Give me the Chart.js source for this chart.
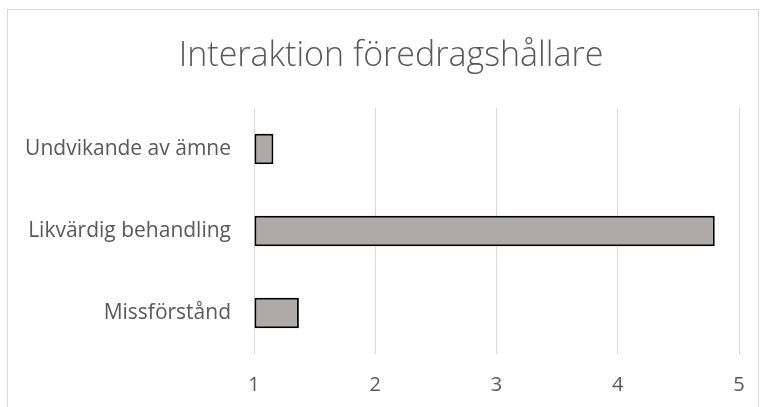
<!DOCTYPE html>
<html>
<head>
<meta charset="utf-8">
<script src="https://cdn.jsdelivr.net/npm/chart.js@4"></script>
<style>
html,body{margin:0;padding:0;background:#fff;}
#wrap{position:relative;width:766px;height:407px;overflow:hidden;}
#frame{position:absolute;left:7px;top:9px;width:752px;height:420px;border:1px solid #d9d9d9;box-sizing:border-box;}
canvas{position:absolute;left:0;top:0;}
</style>
</head>
<body>
<div id="wrap"><div id="frame"></div><canvas id="c" width="766" height="407"></canvas></div>
<script>
const chartTitle = "Interaktion föredragshållare";
const categories = ["Undvikande av ämne", "Likvärdig behandling", "Missförstånd"];
const values = [1.16, 4.80, 1.37];
const xTicks = [1, 2, 3, 4, 5];

const FONT = "'Open Sans', sans-serif";

const titlePlugin = {
  id: 'centeredTitle',
  afterDraw(chart) {
    const ctx = chart.ctx;
    ctx.save();
    ctx.font = "300 34px " + FONT;
    ctx.fillStyle = '#595959';
    ctx.textAlign = 'center';
    ctx.textBaseline = 'middle';
    ctx.fillText(chartTitle, 391, 56);
    ctx.restore();
  }
};

new Chart(document.getElementById('c'), {
  type: 'bar',
  data: {
    labels: categories,
    datasets: [{
      data: values,
      base: 1,
      backgroundColor: '#aeaaaa',
      borderColor: '#000000',
      borderWidth: 2,
      borderSkipped: false,
      categoryPercentage: 1,
      barPercentage: 0.37
    }]
  },
  plugins: [titlePlugin],
  options: {
    indexAxis: 'y',
    responsive: false,
    animation: false,
    layout: { padding: { left: 0, right: 27, top: 108, bottom: 0 } },
    plugins: {
      legend: { display: false },
      tooltip: { enabled: false },
      title: { display: false }
    },
    scales: {
      x: {
        min: xTicks[0],
        max: xTicks[xTicks.length - 1],
        afterBuildTicks: (s) => { s.ticks = xTicks.map(v => ({ value: v })); },
        afterFit: (s) => { s.height = 53; },
        grid: { color: '#d9d9d9', lineWidth: 1, drawTicks: false },
        border: { display: false },
        ticks: { color: '#595959', padding: 19, font: { family: FONT, size: 20 } }
      },
      y: {
        afterFit: (s) => { s.width = 254; },
        grid: { display: false },
        border: { display: false },
        ticks: { color: '#595959', padding: 15, font: { family: FONT, size: 21 } }
      }
    }
  }
});
</script>
</body>
</html>
